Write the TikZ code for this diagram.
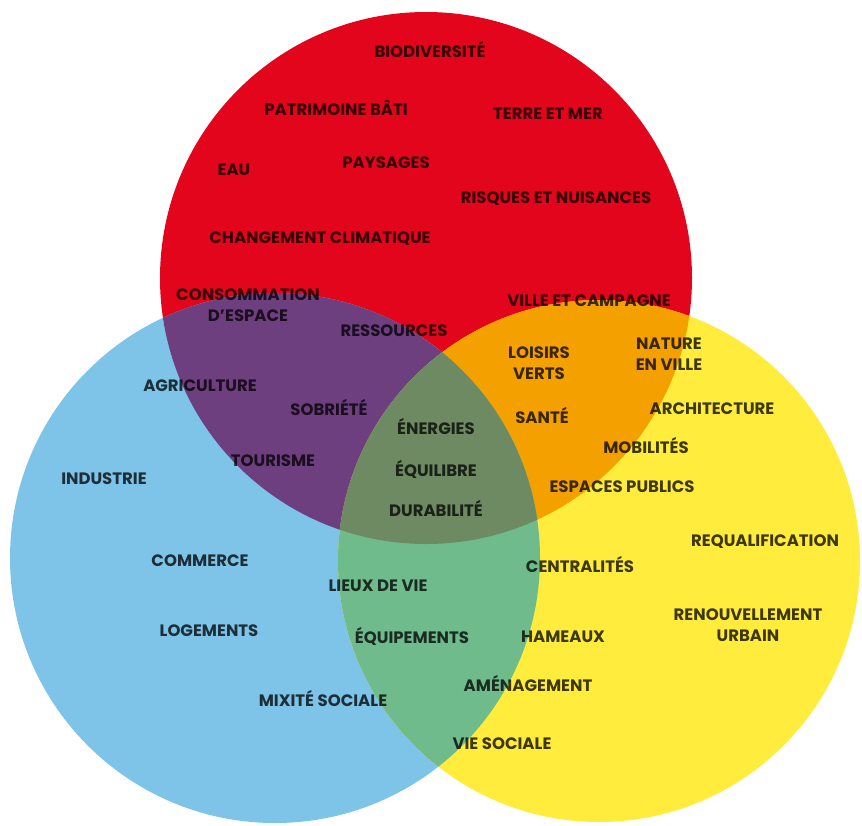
\documentclass[tikz,border=0pt]{standalone}
\usepackage{fontspec}
\setmainfont{Poppins}
\definecolor{cred}{HTML}{E3051B}
\definecolor{cblue}{HTML}{7DC4E8}
\definecolor{cyellow}{HTML}{FFEC3C}
\definecolor{cpurple}{HTML}{6E3F7E}
\definecolor{corange}{HTML}{F4A100}
\definecolor{cgreen}{HTML}{70BB8C}
\definecolor{ccentre}{HTML}{6E8A62}
\tikzset{
  lbl/.style={text=black, text opacity=0.76, inner sep=0pt, align=center,
    font=\bfseries\fontsize{16.5}{21}\selectfont}
}
\begin{document}
\begin{tikzpicture}[x=1pt,y=-1pt]
  \useasboundingbox (0,0) rectangle (862,825);
  \clip (0,0) rectangle (862,825);
  % the three sets
  \coordinate (R) at (426,278);
  \coordinate (B) at (275,558);
  \coordinate (Y) at (599,561);
  \def\rR{266pt}\def\rB{265pt}\def\rY{261pt}
  \fill[cred] (R) circle (\rR);
  \fill[cblue] (B) circle (\rB);
  \fill[cyellow] (Y) circle (\rY);
  % pairwise overlaps
  \begin{scope}
    \clip (R) circle (\rR);
    \fill[cpurple] (B) circle (\rB);
    \fill[corange] (Y) circle (\rY);
  \end{scope}
  \begin{scope}
    \clip (B) circle (\rB);
    \fill[cgreen] (Y) circle (\rY);
  \end{scope}
  % common core
  \begin{scope}
    \clip (R) circle (\rR);
    \clip (B) circle (\rB);
    \fill[ccentre] (Y) circle (\rY);
  \end{scope}
  % labels
  \node[lbl] (biodiv) at (430,50) {BIODIVERSITÉ};
  \node[lbl] (patri) at (336,108) {PATRIMOINE BÂTI};
  \node[lbl] (terre) at (548,114) {TERRE ET MER};
  \node[lbl] (eau) at (234,170) {EAU};
  \node[lbl] (pays) at (386,163) {PAYSAGES};
  \node[lbl] (risques) at (556,199) {RISQUES ET NUISANCES};
  \node[lbl] (climat) at (320,239) {CHANGEMENT CLIMATIQUE};
  \node[lbl] (conso) at (248,305) {CONSOMMATION\\D’ESPACE};
  \node[lbl] (ress) at (394,331) {RESSOURCES};
  \node[lbl] (ville) at (589,301) {VILLE ET CAMPAGNE};
  \node[lbl] (loisirs) at (539,363) {LOISIRS\\VERTS};
  \node[lbl] (nature) at (669,354) {NATURE\\EN VILLE};
  \node[lbl] (agri) at (200,386) {AGRICULTURE};
  \node[lbl] (sobr) at (329,407) {SOBRIÉTÉ};
  \node[lbl] (energ) at (436,426) {ÉNERGIES};
  \node[lbl] (sante) at (542,415) {SANTÉ};
  \node[lbl] (archi) at (712,409) {ARCHITECTURE};
  \node[lbl] (mobil) at (646,445) {MOBILITÉS};
  \node[lbl] (tour) at (273,461) {TOURISME};
  \node[lbl] (indus) at (104,479) {INDUSTRIE};
  \node[lbl] (equil) at (436,469) {ÉQUILIBRE};
  \node[lbl] (espac) at (622,487) {ESPACES PUBLICS};
  \node[lbl] (durab) at (436,508) {DURABILITÉ};
  \node[lbl] (requal) at (765,542) {REQUALIFICATION};
  \node[lbl] (comm) at (200,561) {COMMERCE};
  \node[lbl] (centr) at (580,564) {CENTRALITÉS};
  \node[lbl] (lieux) at (378,586) {LIEUX DE VIE};
  \node[lbl] (renouv) at (748,625) {RENOUVELLEMENT\\URBAIN};
  \node[lbl] (logem) at (209,631) {LOGEMENTS};
  \node[lbl] (equip) at (412,636) {ÉQUIPEMENTS};
  \node[lbl] (hameaux) at (563,637) {HAMEAUX};
  \node[lbl] (amenag) at (528,683) {AMÉNAGEMENT};
  \node[lbl] (mixite) at (323,698) {MIXITÉ SOCIALE};
  \node[lbl] (viesoc) at (502,744) {VIE SOCIALE};
\end{tikzpicture}
\end{document}
